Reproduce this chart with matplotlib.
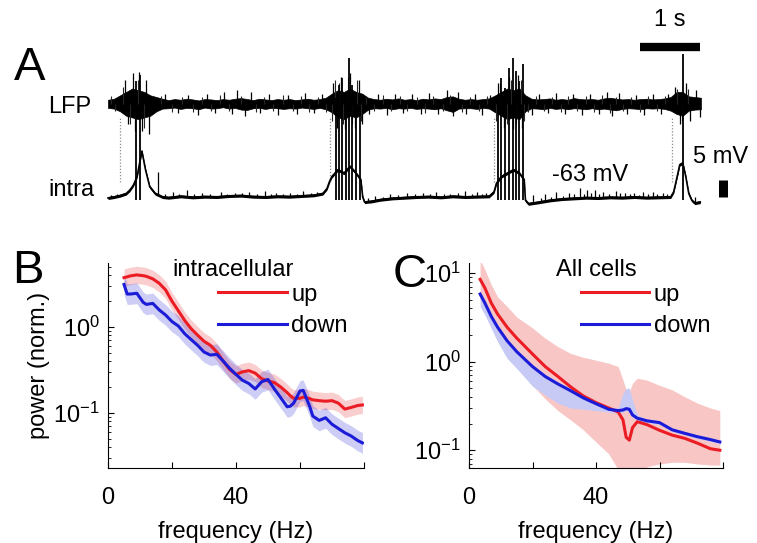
import numpy as np
import matplotlib.pyplot as plt

plt.rcParams['font.family'] = ['Liberation Sans', 'DejaVu Sans']
plt.rcParams['mathtext.default'] = 'regular'

W, H = 757, 543
RED = '#ec1c24'
BLUE = '#1c1cd8'

# ---------------- A: LFP + intracellular traces ----------------
t_env = np.round(np.arange(0, 9.85, 0.1), 2)          # 0.0 .. 9.8 s
lfp_top = [1.2, 1.5, 2.5, 3.5, 4.5, 4.0, 3.5, 2.5, 2.0, 1.5,
           1.1, 1.4, 1.2, 1.5, 1.3, 1.0, 1.4, 1.3, 1.1, 1.4,
           1.2, 1.5, 1.7, 1.4, 1.1, 1.5, 1.3, 1.1, 1.4, 1.2,
           1.4, 1.1, 1.3, 1.5, 1.2, 1.4, 1.8,
           3.0, 4.0, 3.5, 4.5, 3.5, 3.0,
           1.8,
           1.4, 1.2, 1.5, 1.3, 1.6, 1.2,
           1.4, 1.1, 1.5, 1.3, 1.6, 1.4, 2.0, 2.2, 1.5, 1.2,
           1.4, 1.2, 1.4, 1.6,
           2.5, 3.5, 4.5, 4.0, 4.5, 2.5,
           1.5, 1.3, 1.4, 1.6, 1.2, 1.4, 1.2, 1.7, 1.4, 1.3,
           1.4, 1.2, 1.6, 1.8, 1.5, 1.3, 1.4, 1.2, 1.4, 1.5,
           1.3, 1.4, 1.6,
           2.0, 3.5, 3.5, 2.2, 2.0, 1.8]
lfp_bot = [1.2, 1.4, 2.2, 3.5, 4.0, 4.5, 4.0, 3.5, 2.2, 1.4,
           1.3, 1.1, 1.5, 1.2, 1.3, 1.6, 1.1, 1.4, 1.3, 1.0,
           1.4, 1.2, 1.7, 1.8, 1.3, 1.2, 1.5, 1.2, 1.3, 1.5,
           1.3, 1.4, 1.1, 1.3, 1.5, 1.2, 1.6,
           2.5, 4.0, 4.5, 3.5, 4.0, 3.0,
           1.7,
           1.3, 1.4, 1.2, 1.6, 1.3, 1.4,
           1.2, 1.5, 1.3, 1.4, 1.6, 1.3, 1.9, 2.4, 1.4, 1.3,
           1.3, 1.5, 1.2, 1.4,
           2.5, 3.5, 4.5, 4.0, 4.5, 2.2,
           1.3, 1.4, 1.6, 1.2, 1.5, 1.3, 1.6, 1.3, 1.4, 1.6,
           1.3, 1.6, 1.4, 1.7, 1.9, 1.5, 1.3, 1.4, 1.6, 1.3,
           1.4, 1.3, 1.5,
           2.0, 3.0, 3.5, 2.0, 1.7, 1.6]
# larger LFP excursions
lfp_spk_t = [0.28, 0.33, 0.41, 0.45, 0.52, 0.57, 0.62, 0.68, 0.95, 1.15,
             1.32, 1.48, 1.63, 1.77, 1.92, 2.05, 2.13, 2.27, 2.36, 2.52,
             2.66, 2.81, 2.97, 3.12, 3.26, 3.41, 3.53, 3.72, 3.78, 3.85,
             3.92, 4.00, 4.08, 4.15, 4.20, 4.32, 4.47, 4.61, 4.75, 4.88,
             5.02, 5.17, 5.31, 5.46, 5.61, 5.70, 5.78, 5.92, 6.06, 6.19,
             6.31, 6.45, 6.55, 6.62, 6.70, 6.78, 6.85, 7.01, 7.13, 7.27,
             7.41, 7.55, 7.68, 7.83, 7.97, 8.11, 8.24, 8.33, 8.45, 8.58,
             8.72, 8.86, 9.01, 9.14, 9.25, 9.38, 9.45, 9.55, 9.62, 9.72,
             9.78]
lfp_spk_amp = [7.0, -6.0, 9.0, -8.0, 9.5, -8.0, 7.0, -9.0, 3.0, -2.8,
               2.7, -3.3, 2.9, -2.7, 3.5, -3.0, 4.0, -3.6, 3.4, -2.8,
               2.9, -3.2, 2.7, -3.0, 3.1, -2.7, 3.0, 6.0, -7.0, 8.0,
               -7.5, 9.0, -7.0, 7.0, -6.0, -3.1, 2.9, -3.4, 3.0, -2.7,
               2.8, -3.1, 3.3, -2.9, 4.0, -3.7, 3.6, -3.0, 2.9, -3.2,
               2.7, 6.0, -7.0, 8.0, -7.5, 8.5, -7.0, -3.3, 3.0, -2.7,
               3.2, -3.0, 2.8, -3.3, 2.9, -3.0, 3.4, -3.6, 3.1, -2.9,
               2.7, -3.2, 3.0, -3.1, 2.8, 5.0, -6.0, 6.0, -5.0, 4.0,
               -4.0]
# smaller LFP jitter
lfp_jit_t = [0.05, 0.12, 0.88, 1.05, 1.23, 1.40, 1.56, 1.70, 1.85, 2.00,
             2.20, 2.44, 2.58, 2.73, 2.89, 3.05, 3.19, 3.33, 3.47, 3.60,
             4.27, 4.39, 4.54, 4.68, 4.82, 4.95, 5.10, 5.24, 5.38, 5.53,
             5.66, 5.85, 5.99, 6.13, 6.26, 6.95, 7.07, 7.20, 7.34, 7.48,
             7.61, 7.75, 7.90, 8.04, 8.17, 8.29, 8.39, 8.52, 8.65, 8.79,
             8.93, 9.07, 9.20,
             0.25, 0.37, 0.49, 0.60, 3.70, 3.75, 3.81, 3.89, 3.96, 4.03,
             4.11, 4.18, 6.42, 6.48, 6.59, 6.66, 6.74, 6.82, 6.88, 9.41,
             9.48, 9.58]
lfp_jit_amp = [2.2, -2.0, 2.4, -2.3, 2.0, -2.5, 2.1, -2.2, 2.6, -2.0,
               2.3, -2.4, 2.0, -2.2, 2.5, -2.1, 2.2, -2.3, 2.0, -2.4,
               2.1, -2.0, 2.5, -2.2, 2.3, -2.1, 2.0, -2.6, 2.4, -2.2,
               2.7, -2.3, 2.1, -2.0, 2.2, -2.4, 2.3, -2.1, 2.0, -2.5,
               2.2, -2.0, 2.4, -2.3, 2.6, -2.7, 2.1, -2.2, 2.0, -2.4,
               2.3, -2.1, 2.2,
               5.0, -6.0, 7.0, -7.0, -5.0, 7.0, 6.0, -6.0, 8.0, -6.0,
               7.0, -5.0, -5.0, 6.0, -6.0, 7.0, -6.0, 7.0, -5.0, 4.5,
               -5.0, 4.5]
lfp_offset = -35.6

intra_t = [0.0, 0.1, 0.2, 0.3, 0.36, 0.42, 0.48, 0.56, 0.62, 0.69,
           0.78, 0.9, 1.0, 1.2, 1.4, 1.6, 1.8, 2.0, 2.2, 2.4,
           2.6, 2.8, 3.0, 3.2, 3.4, 3.55, 3.62, 3.66, 3.7, 3.8,
           3.9, 4.0, 4.1, 4.18, 4.21, 4.24, 4.35, 4.5, 4.7, 4.9,
           5.1, 5.3, 5.5, 5.7, 5.9, 6.1, 6.3, 6.38, 6.42, 6.5,
           6.6, 6.7, 6.8, 6.88, 6.9, 6.95, 7.1, 7.3, 7.5, 7.7,
           7.9, 8.1, 8.3, 8.5, 8.7, 8.9, 9.1, 9.3, 9.35, 9.42,
           9.45, 9.5, 9.55, 9.6, 9.65, 9.7, 9.79]
intra_v = [-63.3, -63.0, -62.6, -62.0, -61.0, -59.5, -57.0, -49.5, -55.0, -60.0,
           -62.0, -63.0, -63.2, -62.8, -63.1, -62.9, -63.0, -62.7, -62.6, -62.9,
           -63.0, -62.8, -62.9, -62.7, -62.5, -62.0, -60.5, -58.5, -57.0, -55.0,
           -56.0, -54.0, -56.0, -58.0, -63.0, -64.5, -64.3, -63.8, -63.4, -63.2,
           -63.0, -62.9, -63.1, -62.8, -63.0, -62.9, -62.8, -61.5, -59.0, -57.0,
           -56.0, -55.0, -56.0, -58.0, -64.0, -65.0, -64.6, -64.0, -63.6, -63.4,
           -63.2, -63.3, -63.1, -63.2, -63.0, -63.2, -63.1, -63.0, -61.5, -56.0,
           -53.5, -53.0, -57.0, -62.0, -64.0, -64.8, -64.5]

# action potentials (time, peak in mV)
ap_t = [0.47, 0.53,
        3.77, 3.82, 3.87, 3.93, 3.98, 4.04, 4.10, 4.17,
        6.44, 6.50, 6.57, 6.63, 6.69, 6.74, 6.80, 6.86,
        9.50]
ap_peak = [-29, -27,
           -34, -30, -28, -33, -22, -30, -32, -35,
           -33, -28, -31, -25, -22, -26, -29, -24,
           -21]
# small synaptic events on the down-state baseline
epsp_t = [0.83, 1.07, 1.30, 1.55, 1.86, 2.10, 2.33, 2.60, 2.78, 3.00,
          3.22, 3.45, 4.42, 4.66, 4.95, 5.20, 5.42, 5.66, 5.90, 6.10,
          6.25, 7.02, 7.22, 7.40, 7.62, 7.80, 7.92, 8.05, 8.18, 8.40,
          8.55, 8.70, 8.85, 9.00, 9.18, 9.70,
          0.05, 0.15, 0.95, 1.18, 1.42, 1.68, 1.97, 2.22, 2.47, 2.70,
          2.90, 3.12, 3.35, 4.30, 4.55, 4.80, 5.07, 5.32, 5.55, 5.78,
          6.02, 6.18, 7.15, 7.32, 7.52, 7.70, 7.86, 7.99, 8.12, 8.28,
          8.47, 8.62, 8.78, 8.93, 9.08, 9.24]
epsp_peak = [-55.6, -61.5, -61.0, -61.8, -61.4, -61.8, -61.5, -61.2, -61.9, -61.7,
             -61.3, -61.6, -62.8, -62.0, -61.9, -61.8, -61.6, -62.0, -61.3, -61.6,
             -61.7, -62.5, -62.2, -61.5, -61.9, -60.3, -61.0, -60.8, -61.6, -61.2,
             -61.9, -61.8, -61.4, -61.5, -61.8, -62.9,
             -62.3, -62.0, -62.0, -62.0, -62.2, -62.0, -62.1, -61.9, -62.0, -62.1,
             -62.0, -62.0, -61.9, -63.3, -62.9, -62.3, -62.1, -62.0, -62.2, -61.9,
             -62.0, -62.1, -63.4, -63.0, -62.6, -62.2, -62.0, -61.8, -62.2, -62.0,
             -61.9, -62.1, -62.3, -62.0, -62.2, -62.0]
upstate_onsets = [0.20, 3.67, 6.38, 9.32]

# ---------------- B: intracellular spectra ----------------
f_b = [5, 6, 7, 9, 11, 12, 14, 16, 18, 20,
       22, 24, 26, 28, 30, 32, 34, 36, 38, 40,
       42, 44, 46, 48, 50, 52, 54, 56, 57, 58,
       60, 61, 63, 64, 66, 68, 70, 72, 74, 76,
       78, 79.5]
b_up = [3.72, 3.8, 3.9, 4.0, 3.92, 3.85, 3.6, 3.2, 2.68, 1.98,
        1.53, 1.18, 0.95, 0.8, 0.68, 0.61, 0.51, 0.40, 0.32, 0.28,
        0.30, 0.31, 0.29, 0.25, 0.235, 0.225, 0.20, 0.172, 0.158, 0.148,
        0.148, 0.153, 0.147, 0.142, 0.139, 0.137, 0.139, 0.13, 0.111, 0.116,
        0.122, 0.124]
b_down = [3.1, 2.4, 2.4, 2.45, 1.92, 1.82, 1.87, 1.57, 1.37, 1.15,
          1.02, 0.83, 0.71, 0.61, 0.51, 0.47, 0.48, 0.40, 0.33, 0.28,
          0.24, 0.22, 0.19, 0.23, 0.245, 0.19, 0.15, 0.118, 0.12, 0.13,
          0.18, 0.183, 0.12, 0.092, 0.082, 0.088, 0.074, 0.066, 0.059, 0.054,
          0.048, 0.045]
b_up_err = 0.10     # shading half-width, log10 units
b_down_err = 0.12

# ---------------- C: all cells ----------------
f_c = [3.5, 5, 7, 9, 12, 15, 20, 24, 28, 32,
       36, 40, 44, 47, 48.5, 49.5, 50.5, 51.5, 53, 56,
       60, 64, 68, 72, 76, 79]
c_up = [8.5, 6.8, 4.6, 3.45, 2.45, 1.85, 1.22, 0.88, 0.68, 0.52,
        0.41, 0.345, 0.30, 0.27, 0.22, 0.14, 0.13, 0.18, 0.21, 0.195,
        0.168, 0.148, 0.136, 0.12, 0.104, 0.10]
c_up_hi = [14, 11, 7.4, 5.4, 4.2, 3.2, 2.4, 1.84, 1.48, 1.24,
           1.12, 1.04, 0.96, 0.88, 0.62, 0.48, 0.46, 0.57, 0.65, 0.62,
           0.54, 0.48, 0.40, 0.34, 0.30, 0.28]
c_up_lo = [5.0, 3.7, 2.5, 1.84, 1.24, 0.88, 0.54, 0.38, 0.28, 0.22,
           0.17, 0.124, 0.091, 0.06, 0.01, 0.01, 0.01, 0.01, 0.01, 0.065,
           0.07, 0.073, 0.073, 0.07, 0.068, 0.068]
c_down = [5.8, 4.6, 3.25, 2.45, 1.72, 1.3, 0.88, 0.68, 0.56, 0.47,
          0.39, 0.335, 0.29, 0.28, 0.285, 0.295, 0.29, 0.25, 0.23, 0.215,
          0.205, 0.17, 0.155, 0.142, 0.132, 0.124]
c_down_hi = [6.2, 4.9, 3.45, 2.6, 1.82, 1.38, 0.93, 0.72, 0.59, 0.5,
             0.41, 0.35, 0.30, 0.30, 0.44, 0.50, 0.50, 0.37, 0.25, 0.225,
             0.215, 0.178, 0.162, 0.149, 0.138, 0.13]
c_down_lo = [4.2, 3.38, 2.38, 1.68, 1.09, 0.84, 0.53, 0.42, 0.34, 0.30,
             0.29, 0.28, 0.27, 0.26, 0.27, 0.28, 0.27, 0.235, 0.215, 0.205,
             0.195, 0.162, 0.148, 0.135, 0.126, 0.118]


def px_rect(x0, y0, x1, y1):
    return [x0 / W, 1 - y1 / H, (x1 - x0) / W, (y1 - y0) / H]


fig = plt.figure(figsize=(W / 100, H / 100), dpi=100)

# ---- panel A ----
axA = fig.add_axes(px_rect(0, 0, W, 215))
axA.set_xlim(-108 / 60.5, (W - 108) / 60.5)
axA.set_ylim(-68.3, -5.06)
axA.axis('off')

axA.fill_between(t_env, lfp_offset + np.array(lfp_top), lfp_offset - np.array(lfp_bot),
                 color='black', lw=0.5)
axA.vlines(lfp_spk_t, lfp_offset, lfp_offset + np.array(lfp_spk_amp), color='black', lw=0.9)
axA.vlines(lfp_jit_t, lfp_offset, lfp_offset + np.array(lfp_jit_amp), color='0.15', lw=0.8)

axA.vlines(upstate_onsets, -58.5, -39.8, color='0.55', lw=0.9, linestyles=(0, (1, 1.5)))

iv = np.array(intra_v)
axA.fill_between(intra_t, iv - 0.45, iv + 0.45, color='black', lw=0)
axA.plot(intra_t, iv, color='black', lw=1.2)
axA.vlines(epsp_t, np.interp(epsp_t, intra_t, iv), epsp_peak, color='black', lw=0.9)
axA.vlines(ap_t, -64.0, ap_peak, color='black', lw=1.3)

# scale bars
axA.plot([8.79, 9.79], [-18.9, -18.9], color='black', lw=6, solid_capstyle='butt')
axA.text(9.29, -10.9, '1 s', ha='center', va='center', fontsize=17)
axA.plot([10.17, 10.17], [-63, -58], color='black', lw=6.5, solid_capstyle='butt')
axA.text(10.12, -51.2, '5 mV', ha='center', va='center', fontsize=17)
axA.text(7.97, -56.5, '-63 mV', ha='center', va='center', fontsize=17)
axA.text(-0.28, -36.5, 'LFP', ha='right', va='center', fontsize=17)
axA.text(-0.22, -61.0, 'intra', ha='right', va='center', fontsize=17)
axA.text(-1.29, -25.1, 'A', ha='center', va='center', fontsize=34)


def spectrum_axes(rect, ylim):
    ax = fig.add_axes(rect)
    ax.set_yscale('log')
    ax.set_xlim(0, 80)
    ax.set_ylim(*ylim)
    ax.spines[['top', 'right']].set_visible(False)
    ax.set_xticks([0, 20, 40, 60, 80], ['0', '', '40', '', ''])
    ax.tick_params(direction='in', labelsize=17, length=4, pad=14)
    ax.tick_params(axis='y', which='minor', direction='in', length=2)
    ax.tick_params(axis='y', pad=6)
    ax.set_xlabel('frequency (Hz)', fontsize=17, labelpad=8.5)
    return ax


# ---- panel B ----
axB = spectrum_axes(px_rect(108, 263, 364, 468), (0.023, 5.5))
bu, bd = np.array(b_up), np.array(b_down)
axB.fill_between(f_b, bu / 10 ** b_up_err, bu * 10 ** b_up_err, color=RED, alpha=0.22, lw=0)
axB.fill_between(f_b, bd / 10 ** b_down_err, bd * 10 ** b_down_err, color=BLUE, alpha=0.22, lw=0)
axB.plot(f_b, bu, color=RED, lw=2.2, label='up')
axB.plot(f_b, bd, color=BLUE, lw=2.2, label='down')
axB.set_ylabel('power (norm.)', fontsize=17, labelpad=2)
axB.text(0.49, 0.965, 'intracellular', transform=axB.transAxes, ha='center', va='center', fontsize=17)
axB.legend(frameon=False, loc='upper left', bbox_to_anchor=(0.43, 0.90), fontsize=17,
           handlelength=2.9, handletextpad=0.2, labelspacing=0.4, borderaxespad=0, borderpad=0)

# ---- panel C ----
axC = spectrum_axes(px_rect(469, 263, 723, 468), (0.063, 13))
axC.fill_between(f_c, c_up_lo, c_up_hi, color='#f9c6c6', lw=0)
axC.fill_between(f_c, c_down_lo, c_down_hi, color='#c6caf4', lw=0)
axC.plot(f_c, c_up, color=RED, lw=2.2, label='up')
axC.plot(f_c, c_down, color=BLUE, lw=2.2, label='down')
axC.text(0.5, 0.965, 'All cells', transform=axC.transAxes, ha='center', va='center', fontsize=17)
axC.legend(frameon=False, loc='upper left', bbox_to_anchor=(0.44, 0.90), fontsize=17,
           handlelength=2.9, handletextpad=0.2, labelspacing=0.4, borderaxespad=0, borderpad=0)

fig.text(28 / W, 1 - 271 / H, 'B', ha='center', va='center', fontsize=34)
fig.text(410 / W, 1 - 275 / H, 'C', ha='center', va='center', fontsize=34)

fig.savefig('out.png', dpi=100)
